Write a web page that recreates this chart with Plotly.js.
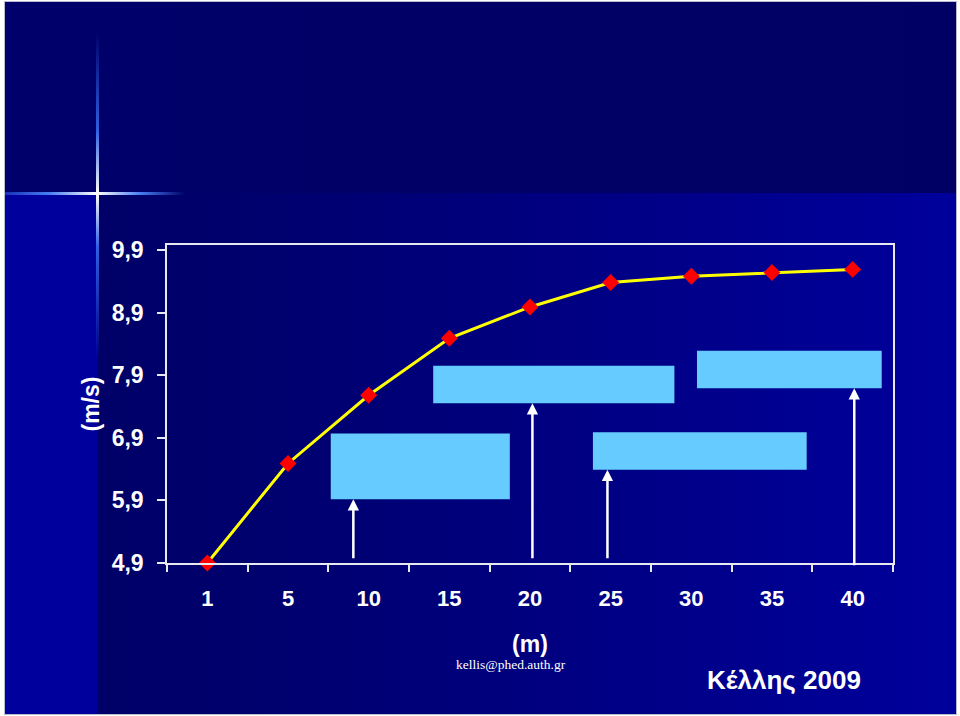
<!DOCTYPE html>
<html>
<head>
<meta charset="utf-8">
<script src="https://cdn.plot.ly/plotly-3.0.1.min.js"></script>
<style>
  html, body { margin: 0; padding: 0; background: #ffffff; }
  #stage { position: relative; width: 960px; height: 716px; overflow: hidden; background: #ffffff; }
  #frame { position: absolute; left: 4px; top: 1px; width: 951px; height: 712px;
           border: 1px solid #b8bccc; background: #000066; }
  #band { position: absolute; left: 0; top: 0; width: 100%; height: 191px;
          background: linear-gradient(90deg, #00006c 0%, #000066 40%, #000064 100%); }
  #leftstrip { position: absolute; left: 0; top: 191px; width: 92px; bottom: 0;
          background: #00009c; }
  #main { position: absolute; left: 92px; top: 191px; right: 0; bottom: 0;
          background: linear-gradient(90deg, #000068 0%, #00006e 20%, #000082 55%, #00009c 100%); }
  #vglow { position: absolute; left: 91px; top: 30px; width: 3px; height: 330px;
          background: linear-gradient(180deg, rgba(60,120,255,0) 0%, rgba(60,120,255,0.8) 30%, #ffffff 49%, rgba(60,120,255,0.8) 65%, rgba(60,120,255,0) 100%); }
  #hglow { position: absolute; left: 0px; top: 190px; width: 180px; height: 3px;
          background: linear-gradient(90deg, rgba(60,120,255,0.4) 0%, rgba(80,140,255,0.9) 25%, #ffffff 51%, rgba(80,140,255,0.9) 75%, rgba(60,120,255,0) 100%); }
  #chart { position: absolute; left: 0; top: 0; width: 960px; height: 716px; }
</style>
</head>
<body>
<div id="stage">
  <div id="frame">
    <div id="band"></div>
    <div id="leftstrip"></div>
    <div id="main"></div>
    <div id="vglow"></div>
    <div id="hglow"></div>
  </div>
  <div id="chart"></div>
</div>
<script>
// Distance (m)
var categories = ['1', '5', '10', '15', '20', '25', '30', '35', '40'];
// Velocity (m/s)
var speed = [4.9, 6.49, 7.58, 8.49, 8.99, 9.38, 9.48, 9.54, 9.59];

// Y-axis ticks
var yTicks = [4.9, 5.9, 6.9, 7.9, 8.9, 9.9];
var yTickText = ['4,9', '5,9', '6,9', '7,9', '8,9', '9,9'];

// Light-blue callout boxes (x in category index, y in m/s)
var boxX0 = [1.53, 2.80, 4.78, 6.07];
var boxX1 = [3.75, 5.79, 7.43, 8.36];
var boxY0 = [5.92, 7.45, 6.39, 7.69];
var boxY1 = [6.97, 8.05, 6.99, 8.29];

// White arrows pointing up to the boxes
var arrowX = [1.81, 4.03, 4.96, 8.02];
var arrowTipY = [5.92, 7.45, 6.39, 7.69];
var arrowTailY = [4.95, 4.95, 4.95, 4.84];

var fontFam = '"Liberation Sans", Arial, Helvetica, sans-serif';

var trace = {
  x: categories,
  y: speed,
  type: 'scatter',
  mode: 'lines+markers',
  line: { color: '#ffff00', width: 3 },
  marker: { symbol: 'diamond', color: '#ff0000', size: 13, line: { width: 0 } },
  cliponaxis: false,
  hoverinfo: 'x+y'
};

var shapes = boxX0.map(function (x0, i) {
  return {
    type: 'rect', xref: 'x', yref: 'y',
    x0: x0, x1: boxX1[i], y0: boxY0[i], y1: boxY1[i],
    fillcolor: '#66ccff', line: { width: 0 }, layer: 'above'
  };
});

var annotations = arrowX.map(function (x, i) {
  return {
    xref: 'x', yref: 'y', axref: 'x', ayref: 'y',
    x: x, y: arrowTipY[i], ax: x, ay: arrowTailY[i],
    text: '', showarrow: true, arrowhead: 2, arrowsize: 0.9,
    arrowwidth: 2.5, arrowcolor: '#ffffff', standoff: 0, startstandoff: 0
  };
});

annotations.push({
  xref: 'paper', yref: 'paper', x: (511 - 167) / 726, y: (563 - 664) / 318,
  xanchor: 'center', yanchor: 'middle', showarrow: false,
  text: 'kellis@phed.auth.gr',
  font: { family: '"Liberation Serif", "Times New Roman", serif', size: 13.5, color: '#ffffff' }
});
annotations.push({
  xref: 'paper', yref: 'paper', x: (784 - 167) / 726, y: (563 - 680) / 318,
  xanchor: 'center', yanchor: 'middle', showarrow: false,
  text: 'Κέλλης 2009',
  font: { family: fontFam, size: 26, color: '#ffffff', weight: 'bold' }
});

var layout = {
  width: 960,
  height: 716,
  margin: { l: 167, r: 67, t: 245, b: 153, pad: 0 },
  paper_bgcolor: 'rgba(0,0,0,0)',
  plot_bgcolor: 'rgba(0,0,0,0)',
  showlegend: false,
  font: { family: fontFam, color: '#ffffff' },
  xaxis: {
    type: 'category',
    categoryorder: 'array',
    categoryarray: categories,
    range: [-0.5, 8.5],
    tickson: 'boundaries',
    ticks: 'outside', ticklen: 7, tickwidth: 1.5, tickcolor: '#e8e8f0',
    showline: true, linecolor: '#e8e8f0', linewidth: 1.5, mirror: true,
    showgrid: false, zeroline: false,
    tickfont: { family: fontFam, size: 22, color: '#ffffff', weight: 'bold' },
    ticklabelstandoff: 15,
    title: { text: '(m)', standoff: 26, font: { family: fontFam, size: 23, color: '#ffffff', weight: 'bold' } },
    automargin: false,
    fixedrange: true
  },
  yaxis: {
    range: [4.9, 9.98],
    tickvals: yTicks,
    ticktext: yTickText,
    ticks: 'outside', ticklen: 8, tickwidth: 1.5, tickcolor: '#e8e8f0',
    showline: true, linecolor: '#e8e8f0', linewidth: 1.5, mirror: true,
    showgrid: false, zeroline: false,
    tickfont: { family: fontFam, size: 23, color: '#ffffff', weight: 'bold' },
    ticklabelstandoff: 9,
    title: { text: '(m/s)', standoff: 6, font: { family: fontFam, size: 23, color: '#ffffff', weight: 'bold' } },
    automargin: false,
    fixedrange: true
  },
  shapes: shapes,
  annotations: annotations
};

Plotly.newPlot('chart', [trace], layout, { displayModeBar: false, staticPlot: false });
</script>
</body>
</html>
